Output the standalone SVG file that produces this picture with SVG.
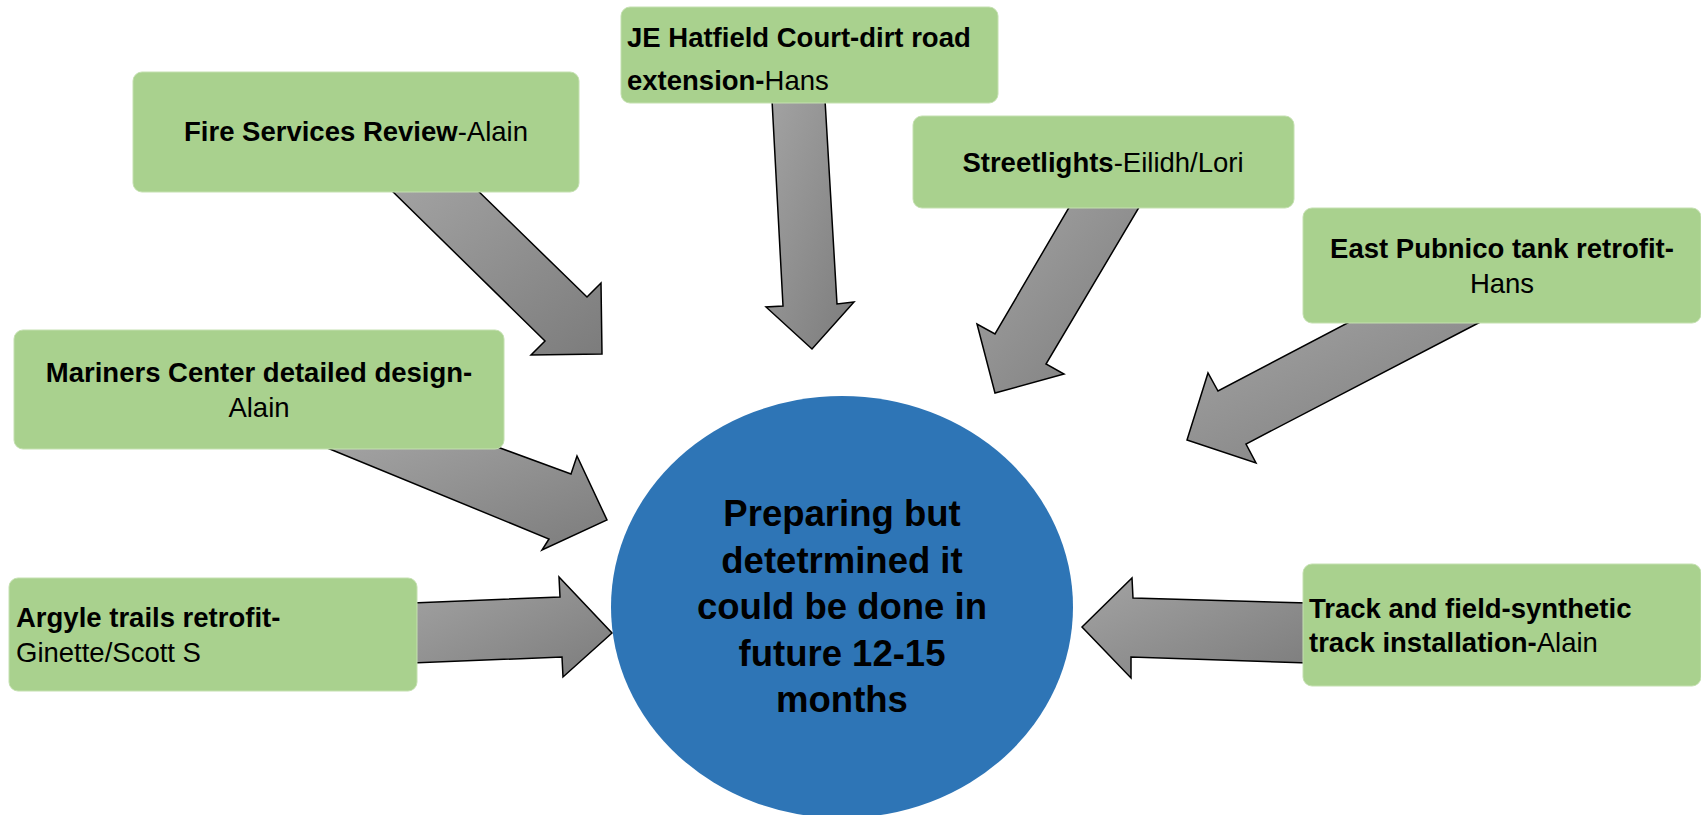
<svg xmlns="http://www.w3.org/2000/svg" width="1701" height="815" viewBox="0 0 1701 815">
<defs>
<linearGradient id="ag" x1="0" y1="0" x2="1" y2="1">
<stop offset="0" stop-color="#a3a3a3"/>
<stop offset="1" stop-color="#7c7c7c"/>
</linearGradient>
<style>
.arrow{fill:url(#ag);stroke:#000;stroke-width:1.5;stroke-linejoin:miter}
.box{fill:#a9d18e;stroke:#c4e0b0;stroke-width:1}
.t{font-family:"Liberation Sans",Arial,sans-serif;font-size:27.5px;fill:#000}
.b{font-weight:bold}
.c{font-family:"Liberation Sans",Arial,sans-serif;font-size:36.5px;font-weight:bold;fill:#000;text-anchor:middle}
</style>
</defs>
<rect width="1701" height="815" fill="#ffffff"/>
<g id="connectors">
<polygon class="arrow" points="386,185 472,185 587,297 601,283 602,354 531,355 545,341"/>
<polygon class="arrow" points="772,100 825,100 837,304 854,302 812,349 766,307 783,306"/>
<polygon class="arrow" points="1071,204 1141,204 1046,364 1064,374 995,393 977,324 995,334"/>
<polygon class="arrow" points="1357,318 1488,318 1246,444 1256,463 1187,440 1208,373 1218,391"/>
<polygon class="arrow" points="320,445 492,445 571,474 577,456 607,520 542,550 549,539"/>
<polygon class="arrow" points="412,603 560,597 559,577 612,633 563,677 562,657 412,663"/>
<polygon class="arrow" points="1082,627 1132,578 1133,598 1308,603 1308,663 1131,657 1131,678"/>
</g>
<g id="center">
<ellipse cx="842" cy="607" rx="231" ry="211" fill="#2e75b6"/>
<text class="c" x="842" y="526">Preparing but</text>
<text class="c" x="842" y="573">detetrmined it</text>
<text class="c" x="842" y="619">could be done in</text>
<text class="c" x="842" y="666">future 12-15</text>
<text class="c" x="842" y="712">months</text>
</g>
<g id="fire">
<rect class="box" x="133" y="72" width="446" height="120" rx="9"/>
<text class="t" x="356" y="141" text-anchor="middle"><tspan class="b">Fire Services Review</tspan>-Alain</text>
</g>
<g id="hatfield">
<rect class="box" x="621" y="7" width="377" height="96" rx="9"/>
<text class="t" x="627" y="47"><tspan class="b">JE Hatfield Court-dirt road</tspan></text>
<text class="t" x="627" y="90"><tspan class="b">extension-</tspan>Hans</text>
</g>
<g id="streetlights">
<rect class="box" x="913" y="116" width="381" height="92" rx="9"/>
<text class="t" x="1103" y="172" text-anchor="middle"><tspan class="b">Streetlights</tspan>-Eilidh/Lori</text>
</g>
<g id="pubnico">
<rect class="box" x="1303" y="208" width="398" height="115" rx="9"/>
<text class="t b" x="1502" y="258" text-anchor="middle">East Pubnico tank retrofit-</text>
<text class="t" x="1502" y="293" text-anchor="middle">Hans</text>
</g>
<g id="mariners">
<rect class="box" x="14" y="330" width="490" height="119" rx="9"/>
<text class="t b" x="259" y="382" text-anchor="middle">Mariners Center detailed design-</text>
<text class="t" x="259" y="417" text-anchor="middle">Alain</text>
</g>
<g id="argyle">
<rect class="box" x="9" y="578" width="408" height="113" rx="9"/>
<text class="t b" x="16" y="627">Argyle trails retrofit-</text>
<text class="t" x="16" y="662">Ginette/Scott S</text>
</g>
<g id="track">
<rect class="box" x="1303" y="564" width="398" height="122" rx="9"/>
<text class="t b" x="1309" y="618">Track and field-synthetic</text>
<text class="t" x="1309" y="652"><tspan class="b">track installation-</tspan>Alain</text>
</g>
</svg>
